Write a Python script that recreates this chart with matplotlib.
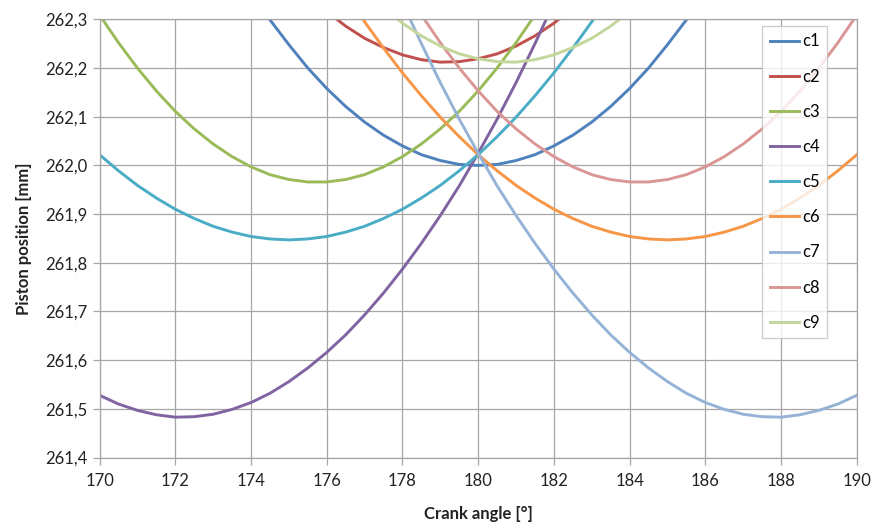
import matplotlib
matplotlib.use("Agg")
import matplotlib.pyplot as plt
from matplotlib.ticker import FuncFormatter

plt.rcParams['font.family'] = ['Lato', 'DejaVu Sans']

# crank angle 170..190 deg in 0.5 deg steps
angle = [170 + 0.5 * i for i in range(41)]

c1 = [262.990, 262.894, 262.802, 262.715, 262.634, 262.557, 262.485, 262.418, 262.356, 262.299,
      262.248, 262.200, 262.158, 262.121, 262.089, 262.062, 262.040, 262.022, 262.010, 262.002,
      262.000,
      262.002, 262.010, 262.022, 262.040, 262.062, 262.089, 262.121, 262.158, 262.200, 262.248,
      262.299, 262.356, 262.418, 262.485, 262.557, 262.634, 262.715, 262.802, 262.894, 262.990]
c2 = [263.075, 262.984, 262.898, 262.817, 262.741, 262.670, 262.604, 262.543, 262.488, 262.437,
      262.392, 262.352, 262.316, 262.286, 262.261, 262.242, 262.227, 262.217, 262.212, 262.213,
      262.219,
      262.229, 262.245, 262.266, 262.292, 262.323, 262.359, 262.401, 262.447, 262.499, 262.555,
      262.617, 262.684, 262.756, 262.833, 262.915, 263.002, 263.094, 263.192, 263.294, 263.402]
c3 = [262.309, 262.252, 262.200, 262.153, 262.111, 262.075, 262.044, 262.018, 261.997, 261.981,
      261.971, 261.966, 261.966, 261.971, 261.981, 261.997, 262.018, 262.044, 262.075, 262.111,
      262.153,
      262.200, 262.252, 262.309, 262.371, 262.439, 262.512, 262.590, 262.673, 262.761, 262.855,
      262.954, 263.058, 263.167, 263.281, 263.401, 263.526, 263.656, 263.791, 263.931, 264.077]
c4 = [261.528, 261.510, 261.497, 261.488, 261.483, 261.484, 261.489, 261.499, 261.513, 261.532,
      261.556, 261.584, 261.616, 261.652, 261.693, 261.738, 261.787, 261.840, 261.897, 261.958,
      262.025,
      262.095, 262.170, 262.250, 262.334, 262.420, 262.510, 262.600, 262.695, 262.790, 262.890,
      262.990, 263.090, 263.195, 263.300, 263.410, 263.520, 263.630, 263.745, 263.860, 263.980]
c5 = [262.022, 261.989, 261.959, 261.933, 261.910, 261.891, 261.875, 261.863, 261.854, 261.849,
      261.847, 261.849, 261.854, 261.863, 261.875, 261.891, 261.910, 261.933, 261.959, 261.989,
      262.022,
      262.059, 262.099, 262.143, 262.190, 262.241, 262.295, 262.353, 262.414, 262.479, 262.547,
      262.619, 262.694, 262.773, 262.855, 262.941, 263.030, 263.123, 263.219, 263.319, 263.422]
c6 = [263.422, 263.319, 263.219, 263.123, 263.030, 262.941, 262.855, 262.773, 262.694, 262.619,
      262.547, 262.479, 262.414, 262.353, 262.295, 262.241, 262.190, 262.143, 262.099, 262.059,
      262.022,
      261.989, 261.959, 261.933, 261.910, 261.891, 261.875, 261.863, 261.854, 261.849, 261.847,
      261.849, 261.854, 261.863, 261.875, 261.891, 261.910, 261.933, 261.959, 261.989, 262.022]
c7 = [263.980, 263.860, 263.745, 263.630, 263.520, 263.410, 263.300, 263.195, 263.090, 262.990,
      262.890, 262.790, 262.695, 262.600, 262.510, 262.420, 262.334, 262.250, 262.170, 262.095,
      262.025,
      261.958, 261.897, 261.840, 261.787, 261.738, 261.693, 261.652, 261.616, 261.584, 261.556,
      261.532, 261.513, 261.499, 261.489, 261.484, 261.483, 261.488, 261.497, 261.510, 261.528]
c8 = [264.077, 263.931, 263.791, 263.656, 263.526, 263.401, 263.281, 263.167, 263.058, 262.954,
      262.855, 262.761, 262.673, 262.590, 262.512, 262.439, 262.371, 262.309, 262.252, 262.200,
      262.153,
      262.111, 262.075, 262.044, 262.018, 261.997, 261.981, 261.971, 261.966, 261.966, 261.971,
      261.981, 261.997, 262.018, 262.044, 262.075, 262.111, 262.153, 262.200, 262.252, 262.309]
c9 = [263.402, 263.294, 263.192, 263.094, 263.002, 262.915, 262.833, 262.756, 262.684, 262.617,
      262.555, 262.499, 262.447, 262.401, 262.359, 262.323, 262.292, 262.266, 262.245, 262.229,
      262.219,
      262.213, 262.212, 262.217, 262.227, 262.242, 262.261, 262.286, 262.316, 262.352, 262.392,
      262.437, 262.488, 262.543, 262.604, 262.670, 262.741, 262.817, 262.898, 262.984, 263.075]

series_names = ["c1", "c2", "c3", "c4", "c5", "c6", "c7", "c8", "c9"]
series_values = [c1, c2, c3, c4, c5, c6, c7, c8, c9]
colors = ["#4F81BD", "#C0504D", "#9BBB59", "#8064A2", "#4BACC6",
          "#F79646", "#95B3D7", "#D99694", "#C3D69B"]

x_ticks = list(range(170, 191, 2))
y_ticks = [261.4, 261.5, 261.6, 261.7, 261.8, 261.9, 262.0, 262.1, 262.2, 262.3]

fig = plt.figure(figsize=(8.77, 5.30), dpi=100)
ax = fig.add_axes([0.1135, 0.1366, 0.8635, 0.827])

for name, vals, col in zip(series_names, series_values, colors):
    ax.plot(angle, vals, color=col, lw=2.1, label=name, solid_joinstyle='round')

ax.set_xlim(170, 190)
ax.set_ylim(261.4, 262.3)
ax.set_xticks(x_ticks)
ax.set_yticks(y_ticks)
ax.yaxis.set_major_formatter(FuncFormatter(lambda v, p: f"{v:.1f}".replace('.', ',')))
ax.grid(True, color="#A6A6A6", lw=0.9)
ax.set_axisbelow(True)
for s in ax.spines.values():
    s.set_color("#A6A6A6")
    s.set_linewidth(0.9)
ax.tick_params(axis='both', colors="#A6A6A6", labelcolor="#222222", labelsize=12, length=5, width=0.9)
ax.tick_params(axis='x', pad=6)

ax.set_xlabel("Crank angle [°]", fontsize=12, fontweight='bold', color="#222222", labelpad=12)
ax.set_ylabel("Piston position [mm]", fontsize=12, fontweight='bold', color="#222222", labelpad=10)

leg = ax.legend(loc='upper left', bbox_to_anchor=(0.869, 0.951), bbox_transform=fig.transFigure,
                fontsize=12, frameon=True, fancybox=False, edgecolor="#BFBFBF",
                handlelength=1.75, handletextpad=0.2, labelspacing=1.15, borderpad=0.45,
                borderaxespad=0.0)
leg.get_frame().set_linewidth(0.9)

fig.savefig("out.png", dpi=100, facecolor="white")
